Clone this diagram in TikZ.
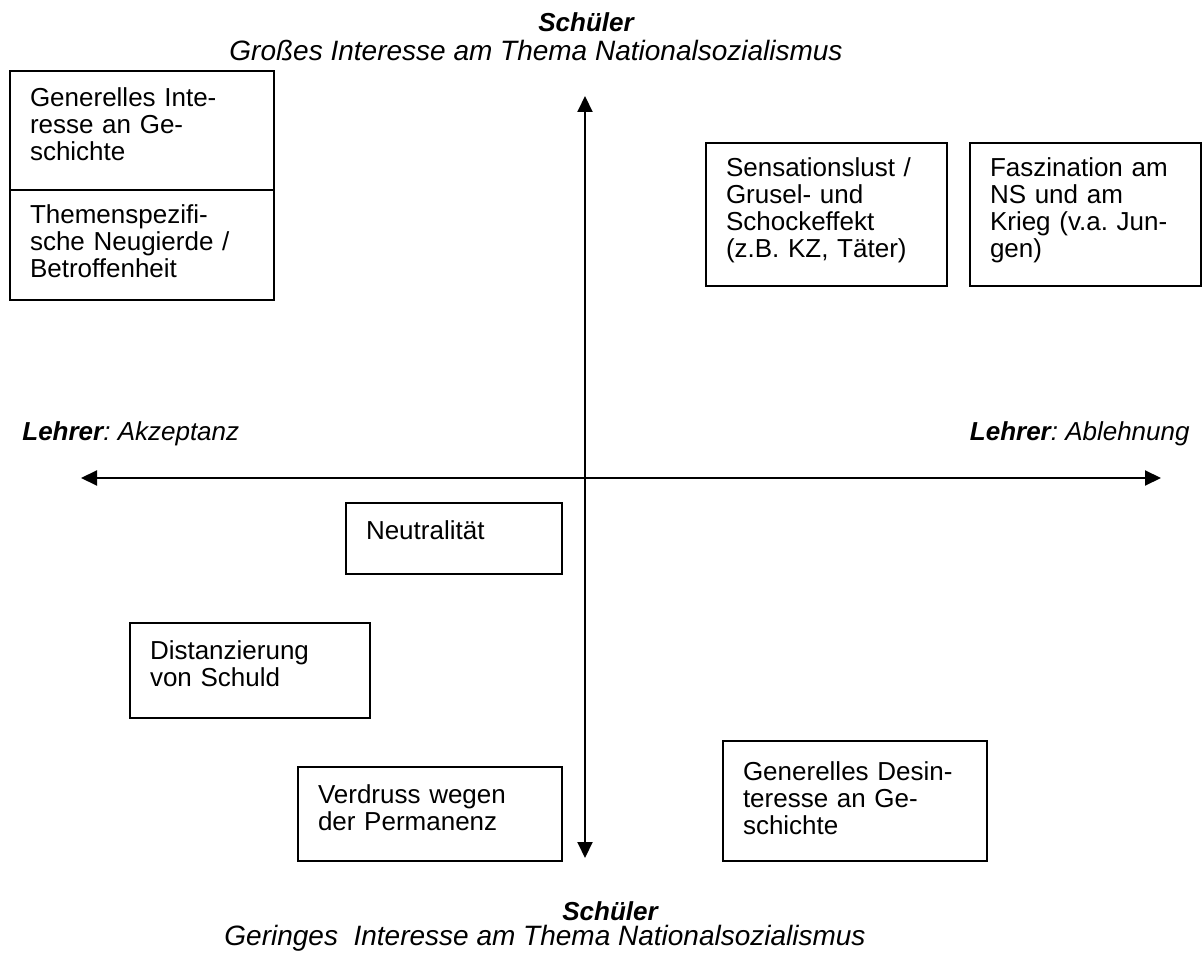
\documentclass[tikz,border=0pt]{standalone}
\usepackage{fontspec}
\setmainfont{Liberation Sans}
\usepackage{tikz}
\usetikzlibrary{arrows.meta,positioning}
\tikzset{
  feld/.style={
    draw,
    line width=1pt,
    anchor=north west,
    align=left,
    inner xsep=10pt,
    inner ysep=0pt,
    text height=18pt
  },
  achse/.style={
    {Triangle[length=8pt,width=7.5pt]}-{Triangle[length=8pt,width=7.5pt]},
    line width=1pt
  },
  titel/.style={
    anchor=base,
    inner sep=0pt,
    font=\itshape
  },
  untertitel/.style={
    titel,
    font=\fontsize{14pt}{15pt}\selectfont\itshape
  }
}

\begin{document}
\begin{tikzpicture}[x=0.5pt,y=-0.5pt]
\fontsize{13pt}{13.5pt}\selectfont
\frenchspacing
\useasboundingbox (0,0) rectangle (1204,956);
% Achsen
\coordinate (oben) at (585,96);
\coordinate (unten) at (585,858);
\coordinate (links) at (81,478);
\coordinate (rechts) at (1161,478);
\draw[achse] (unten) -- (oben);
\draw[achse] (links) -- (rechts);
% Beschriftung der Achsen
\node[titel] (s1) at (586,32) {\textbf{Schüler}};
\node[untertitel] (s2) at (536,61) {Großes Interesse am Thema Nationalsozialismus};
\node[titel,anchor=base west] (l1) at (22,441) {\textbf{Lehrer}: Akzeptanz};
\node[titel,anchor=base east] (l2) at (1190,441) {\textbf{Lehrer}: Ablehnung};
\node[titel] (s3) at (610,920) {\textbf{Schüler}};
\node[untertitel] (s4) at (545,945) {Geringes\ \ Interesse am Thema Nationalsozialismus};
% Felder
\node[feld,text width=112pt,text depth=41.5pt] (a) at (9,70) {Generelles Inte-\\resse an Ge-\\schichte};
\node[feld,text width=112pt,text height=17pt,text depth=38pt] (b) at (9,189) {Themenspezifi-\\sche Neugierde /\\Betroffenheit};
\node[feld,text width=100.5pt,text height=17pt,text depth=54.5pt] (c) at (705,142) {Sensationslust /\\Grusel- und\\Schockeffekt\\(z.B. KZ, Täter)};
\node[feld,text width=95.5pt,text height=17pt,text depth=54.5pt] (d) at (969,142) {Faszination am\\NS und am\\Krieg (v.a. Jun-\\gen)};
\node[feld,text width=88pt,text depth=17.5pt] (e) at (345,502) {Neutralität};
\node[feld,text width=100pt,text depth=29.5pt] (f) at (129,622) {Distanzierung\\von Schuld};
\node[feld,text width=112pt,text depth=29pt] (g) at (297,766) {Verdruss wegen\\der Permanenz};
\node[feld,text width=112pt,text height=19.5pt,text depth=40.5pt] (h) at (722,740) {Generelles Desin-\\teresse an Ge-\\schichte};
\end{tikzpicture}
\end{document}
